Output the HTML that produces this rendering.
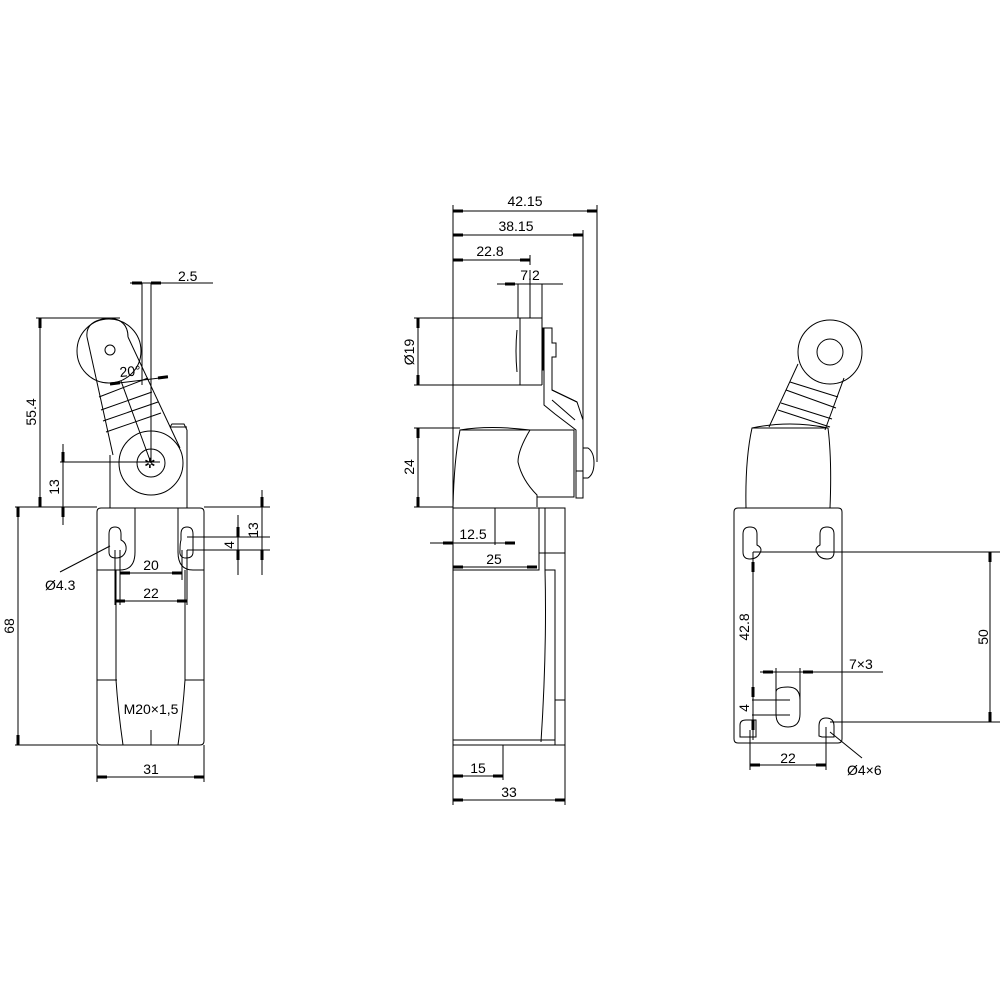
<!DOCTYPE html>
<html><head><meta charset="utf-8"><style>
html,body{margin:0;padding:0;background:#fff;}
svg{display:block;}
text{font-family:"Liberation Sans",sans-serif;font-size:14px;fill:#000;}
</style></head><body>
<svg width="1000" height="1000" viewBox="0 0 1000 1000" xmlns="http://www.w3.org/2000/svg">
<g fill="none" stroke="#000" stroke-width="1">

<!-- ============ LEFT VIEW ============ -->
<path d="M101,508 H200 Q204,508 204,512 V741 Q204,745 200,745 H101 Q97,745 97,741 V512 Q97,508 101,508Z"/>
<path d="M135,508 V552 Q135,570 120,570 H97"/>
<path d="M178,508 V552 Q178,570 193,570 H204"/>
<path d="M116,570 V680 Q118,710 123,745"/>
<path d="M185,570 V680 Q183,710 178,745"/>
<path d="M97,680 H117 M185,680 H204"/>
<line x1="151" y1="730" x2="151" y2="745"/>
<path d="M109,534 Q109,527 115,527 Q121,527 121,534 V540 Q127,543 126,550 Q124,558 116,558 Q109,558 109,552Z"/>
<path d="M181,534 Q181,527 187,527 Q193,527 193,534 V552 Q193,558 186,558 Q179,558 180,550 Q180,543 181,540Z"/>
<path d="M110,508 V455"/>
<path d="M187,508 V430 M170,427 H187 M170,427 L172,424 H184 L187,430"/>
<circle cx="151" cy="463" r="32"/>
<circle cx="151" cy="463" r="14"/>
<text x="144" y="468" font-size="11" stroke="none">✲</text>
<path d="M87,337 L113,455"/>
<path d="M128,337 L180,448"/>
<path d="M87,337 Q85,320 110,318 Q128,320 128,337"/>
<circle cx="109" cy="351" r="32"/>
<circle cx="110" cy="350" r="5"/>
<path d="M99,397 L148,378 M101,410 L152,392 M103,421 L158,402 M106,432 L161,413"/>
<path d="M121,381 L151,463"/>
<line x1="142" y1="283" x2="142" y2="385"/>
<line x1="151" y1="283" x2="151" y2="463"/>
<line x1="130" y1="283" x2="213" y2="283"/>
<line x1="110" y1="384" x2="168" y2="377"/>
<line x1="36" y1="318" x2="120" y2="318"/>
<line x1="40" y1="318" x2="40" y2="507"/>
<line x1="15" y1="507" x2="97" y2="507"/>
<line x1="204" y1="507" x2="270" y2="507"/>
<line x1="60" y1="462" x2="160" y2="462"/>
<line x1="63" y1="444" x2="63" y2="525"/>
<line x1="18" y1="507" x2="18" y2="745"/>
<line x1="15" y1="745" x2="97" y2="745"/>
<line x1="97" y1="745" x2="97" y2="782"/><line x1="204" y1="745" x2="204" y2="782"/>
<line x1="97" y1="777" x2="204" y2="777"/>
<line x1="187" y1="537" x2="270" y2="537"/>
<line x1="187" y1="550" x2="270" y2="550"/>
<line x1="238" y1="515" x2="238" y2="575"/>
<line x1="262" y1="490" x2="262" y2="575"/>
<line x1="120" y1="550" x2="120" y2="605"/>
<line x1="115" y1="550" x2="115" y2="605"/>
<line x1="182" y1="550" x2="182" y2="580"/>
<line x1="187" y1="550" x2="187" y2="605"/>
<line x1="120" y1="573" x2="182" y2="573"/>
<line x1="115" y1="601" x2="187" y2="601"/>
<line x1="110" y1="546" x2="60" y2="572"/>

<!-- ============ MIDDLE VIEW ============ -->
<line x1="453" y1="205" x2="453" y2="805"/>
<line x1="597" y1="205" x2="597" y2="462"/>
<line x1="583" y1="230" x2="583" y2="430"/>
<line x1="453" y1="211" x2="597" y2="211"/>
<line x1="453" y1="235" x2="583" y2="235"/>
<line x1="453" y1="260" x2="530" y2="260"/>
<line x1="530" y1="255" x2="530" y2="265"/>
<line x1="497" y1="284" x2="563" y2="284"/>
<line x1="518" y1="284" x2="518" y2="318"/>
<line x1="530" y1="270" x2="530" y2="318"/>
<line x1="542" y1="284" x2="542" y2="318"/>
<line x1="414" y1="318" x2="542" y2="318"/><line x1="414" y1="385" x2="542" y2="385"/>
<line x1="542" y1="318" x2="542" y2="385"/>
<line x1="520" y1="318" x2="520" y2="385"/>
<path d="M517,330 Q515,351 517,372"/>
<line x1="418" y1="318" x2="418" y2="385"/>
<rect x="542" y="328" width="2" height="42" fill="#000"/>
<path d="M544,328 H552 V343 H556 V357 H552 V390 L577,402 L583,420 V498 H576 V430 L555,414 L544,405Z"/>
<path d="M552,390 L577,402 M552,400 L575,420"/>
<path d="M583,448 H588 Q594,452 594,463 Q594,474 588,478 H583"/>
<line x1="576" y1="471" x2="583" y2="471"/>
<path d="M453,507 Q454,460 460,430 H530 Q518,450 518,462 Q522,480 537,495 V507"/>
<path d="M460,430 Q490,425 530,430"/>
<path d="M530,430 H574 V497 H537"/>
<line x1="414" y1="428" x2="460" y2="428"/>
<line x1="414" y1="507" x2="453" y2="507"/>
<line x1="418" y1="428" x2="418" y2="507"/>
<path d="M453,508 H565 V745 H453"/>
<path d="M539,508 V570 H453"/>
<line x1="545" y1="508" x2="545" y2="570"/>
<line x1="539" y1="553" x2="565" y2="553"/>
<path d="M545,570 H555 V745 M545,570 Q547,650 541,742"/>
<line x1="555" y1="700" x2="565" y2="700"/>
<line x1="453" y1="740" x2="555" y2="740"/>
<line x1="495" y1="508" x2="495" y2="545"/>
<line x1="430" y1="543" x2="515" y2="543"/>
<line x1="453" y1="567" x2="537" y2="567"/>
<line x1="503" y1="745" x2="503" y2="780"/>
<line x1="565" y1="745" x2="565" y2="805"/>
<line x1="453" y1="776" x2="503" y2="776"/>
<line x1="453" y1="800" x2="565" y2="800"/>

<!-- ============ RIGHT VIEW ============ -->
<path d="M738,508 H838 Q842,508 842,512 V739 Q842,743 838,743 H738 Q734,743 734,739 V512 Q734,508 738,508Z"/>
<path d="M746,508 Q745,460 752,428 H828 Q832,460 830,508"/>
<path d="M752,428 Q790,420 828,428"/>
<path d="M769,427 L798,364 M825,430 L844,378"/>
<circle cx="830" cy="352" r="32"/>
<circle cx="830" cy="352" r="13"/>
<path d="M790,382 L838,397 M786,390 L836,408 M781,403 L832,419 M778,410 L830,427"/>
<path d="M743,534 Q743,527 750,527 Q757,527 757,534 V545 Q763,548 760,553 Q757,559 750,559 Q743,559 743,552Z"/>
<path d="M834,534 Q834,527 827,527 Q820,527 820,534 V545 Q814,548 817,553 Q820,559 827,559 Q834,559 834,552Z"/>
<path d="M776,692 Q776,687 788,687 Q800,687 800,700 V714 Q800,727 788,727 Q776,727 776,714Z"/>
<path d="M740,737 V725 Q740,720 746,720 H756 V737Z"/>
<path d="M819,736 V726 Q819,718 826,718 Q834,718 834,726 V737 H822Z"/>
<line x1="753" y1="552" x2="1000" y2="552"/>
<line x1="830" y1="722" x2="1000" y2="722"/>
<line x1="990" y1="552" x2="990" y2="722"/>
<line x1="753" y1="552" x2="753" y2="740"/>
<line x1="750" y1="730" x2="750" y2="770"/>
<line x1="826" y1="727" x2="826" y2="770"/>
<line x1="750" y1="765" x2="826" y2="765"/>
<line x1="760" y1="672" x2="883" y2="672"/>
<line x1="776" y1="668" x2="776" y2="700"/>
<line x1="800" y1="668" x2="800" y2="700"/>
<line x1="752" y1="700" x2="790" y2="700"/>
<line x1="752" y1="715" x2="790" y2="715"/>
<line x1="830" y1="732" x2="862" y2="758"/>
</g>

<!-- arrowheads -->
<g fill="#000" stroke="none">
<!-- left view horizontal -->
<rect x="132" y="281.5" width="10" height="3"/><rect x="151" y="281.5" width="10" height="3"/>
<rect x="97" y="775.5" width="10" height="3"/><rect x="194" y="775.5" width="10" height="3"/>
<rect x="120" y="571.5" width="10" height="3"/><rect x="172" y="571.5" width="10" height="3"/>
<rect x="115" y="599.5" width="10" height="3"/><rect x="177" y="599.5" width="10" height="3"/>
<rect x="110" y="382.5" width="10" height="3" transform="rotate(-7 110 384)"/>
<rect x="158" y="376.5" width="10" height="3" transform="rotate(-7 158 378)"/>
<!-- left view vertical -->
<rect x="38.5" y="318" width="3" height="10"/><rect x="38.5" y="497" width="3" height="10"/>
<rect x="61.5" y="452" width="3" height="10"/><rect x="61.5" y="507" width="3" height="10"/>
<rect x="16.5" y="507" width="3" height="10"/><rect x="16.5" y="735" width="3" height="10"/>
<rect x="236.5" y="527" width="3" height="10"/><rect x="236.5" y="550" width="3" height="10"/>
<rect x="260.5" y="497" width="3" height="10"/><rect x="260.5" y="550" width="3" height="10"/>
<!-- middle -->
<rect x="453" y="209.5" width="10" height="3"/><rect x="587" y="209.5" width="10" height="3"/>
<rect x="453" y="233.5" width="10" height="3"/><rect x="573" y="233.5" width="10" height="3"/>
<rect x="453" y="258.5" width="10" height="3"/><rect x="520" y="258.5" width="10" height="3"/>
<rect x="505" y="282.5" width="10" height="3"/>
<rect x="443" y="541.5" width="10" height="3"/><rect x="505" y="541.5" width="10" height="3"/>
<rect x="453" y="565.5" width="10" height="3"/><rect x="527" y="565.5" width="10" height="3"/>
<rect x="453" y="774.5" width="10" height="3"/><rect x="493" y="774.5" width="10" height="3"/>
<rect x="453" y="798.5" width="10" height="3"/><rect x="555" y="798.5" width="10" height="3"/>
<rect x="416.5" y="318" width="3" height="10"/><rect x="416.5" y="375" width="3" height="10"/>
<rect x="416.5" y="428" width="3" height="10"/><rect x="416.5" y="497" width="3" height="10"/>
<!-- right -->
<rect x="988.5" y="552" width="3" height="10"/><rect x="988.5" y="712" width="3" height="10"/>
<rect x="751.5" y="562" width="3" height="10"/><rect x="751.5" y="720" width="3" height="10"/>
<rect x="751.5" y="687" width="3" height="10"/>
<rect x="750" y="763.5" width="10" height="3"/><rect x="816" y="763.5" width="10" height="3"/>
<rect x="763" y="670.5" width="10" height="3"/><rect x="803" y="670.5" width="10" height="3"/>
</g>

<g>
<text x="178" y="281">2.5</text>
<text x="120" y="377" transform="rotate(-5 120 377)">20°</text>
<text x="36" y="412" transform="rotate(-90 36 412)" text-anchor="middle">55.4</text>
<text x="59" y="487" transform="rotate(-90 59 487)" text-anchor="middle">13</text>
<text x="14" y="626" transform="rotate(-90 14 626)" text-anchor="middle">68</text>
<text x="258" y="530" transform="rotate(-90 258 530)" text-anchor="middle">13</text>
<text x="234" y="545" transform="rotate(-90 234 545)" text-anchor="middle">4</text>
<text x="45" y="590">Ø4.3</text>
<text x="151" y="570" text-anchor="middle">20</text>
<text x="151" y="598" text-anchor="middle">22</text>
<text x="151" y="714" text-anchor="middle" font-size="13">M20×1,5</text>
<text x="151" y="774" text-anchor="middle">31</text>
<text x="525" y="206" text-anchor="middle">42.15</text>
<text x="516" y="231" text-anchor="middle">38.15</text>
<text x="490" y="256" text-anchor="middle">22.8</text>
<text x="530" y="280" text-anchor="middle">7.2</text>
<text x="414" y="352" transform="rotate(-90 414 352)" text-anchor="middle">Ø19</text>
<text x="414" y="467" transform="rotate(-90 414 467)" text-anchor="middle">24</text>
<text x="473" y="539" text-anchor="middle">12.5</text>
<text x="494" y="564" text-anchor="middle">25</text>
<text x="478" y="773" text-anchor="middle">15</text>
<text x="509" y="797" text-anchor="middle">33</text>
<text x="749" y="627" transform="rotate(-90 749 627)" text-anchor="middle">42.8</text>
<text x="988" y="637" transform="rotate(-90 988 637)" text-anchor="middle">50</text>
<text x="849" y="669">7×3</text>
<text x="749" y="708" transform="rotate(-90 749 708)" text-anchor="middle">4</text>
<text x="788" y="763" text-anchor="middle">22</text>
<text x="847" y="775">Ø4×6</text>
</g>
</svg>
</body></html>
